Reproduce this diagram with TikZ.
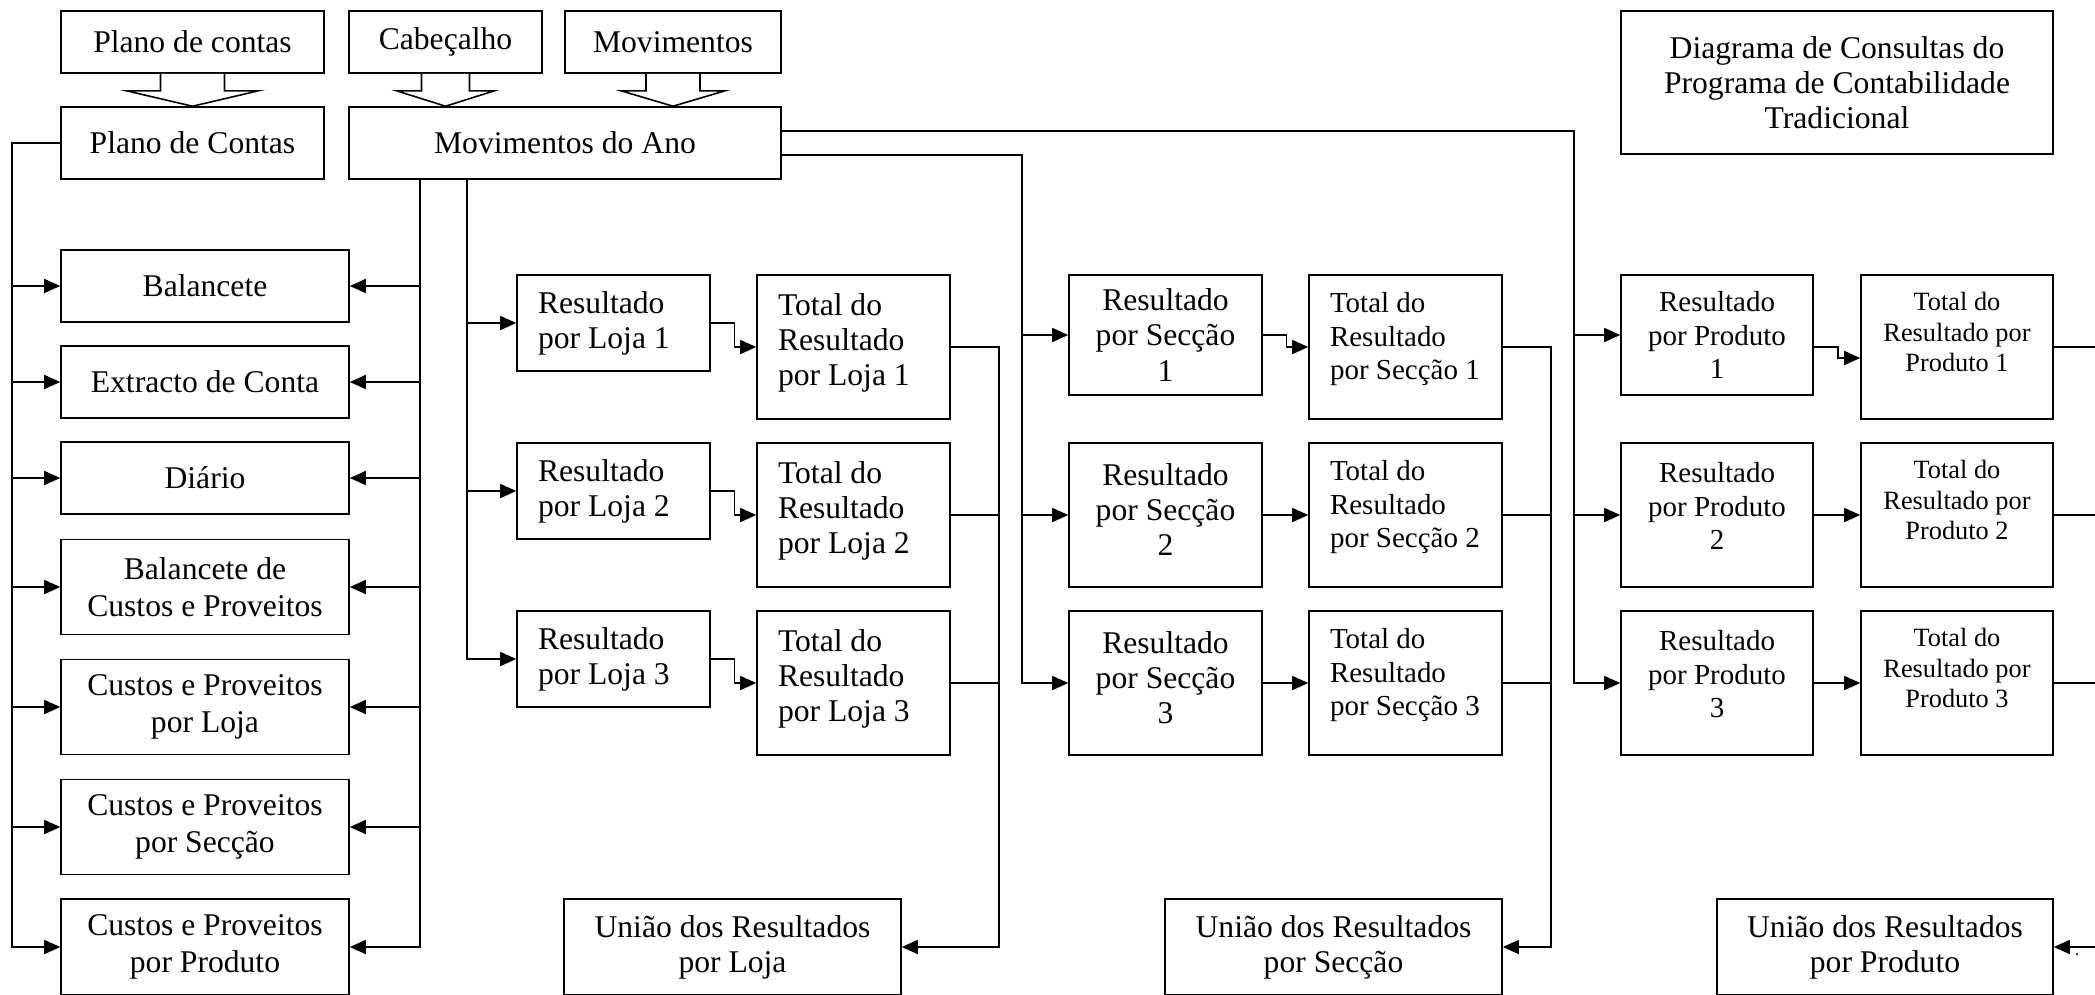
\documentclass[tikz,border=0pt]{standalone}
\usepackage{fontspec}
\setmainfont{Liberation Serif}
\usetikzlibrary{positioning,calc,arrows.meta}
\newlength\pxu
\setlength\pxu{0.02cm}
\tikzset{
	box/.style={draw=black,line width=0.9pt,inner sep=0pt,align=center,
		font=\fontsize{18}{20}\selectfont},
	sz/.style 2 args={minimum width=#1*\pxu,minimum height=#2*\pxu},
	lcol/.style={box,sz={288}{#1},font=\fontsize{18}{21}\selectfont},
	lft/.style={box,align=flush left,text width=3.02cm},
	lift/.style={text depth=#1},
	small/.style={font=\fontsize{16.5}{19}\selectfont},
	smaller/.style={font=\fontsize{15}{17.5}\selectfont},
	wire/.style={draw=black,line width=0.9pt},
	arr/.style={wire,-{Triangle[length=0.32cm,width=0.28cm]}},
}

\begin{document}
\begin{tikzpicture}[x=0.02cm,y=-0.02cm]
	\useasboundingbox (0,0) rectangle (2095,994);
	% ficheiros de entrada
	\node[box,sz={263}{62}] (pcs) at (192.5,42) {Plano de contas};
	\node[box,sz={193}{62}] (cab) at (445.5,42) {Cabeçalho};
	\node[box,sz={216}{62}] (mov) at (673,42) {Movimentos};
	\node[box,sz={263}{72}] (pc) at (192.5,143) {Plano de Contas};
	\node[box,sz={432}{72}] (ma) at (565,143) {Movimentos do Ano};
	\node[box,sz={432}{143}] (tit) at (1837,82.5) {Diagrama de Consultas do\\Programa de Contabilidade\\Tradicional};
	\foreach \s/\t/\a/\b in {pcs/pc/32/66,cab/ma/24/49,mov/ma/27/52}
	\draw[wire,fill=white] ($(\s.south)+(-\a,0)$) -- ++(0,17) -- ++(\a-\b,0)
		-- (\s.south |- \t.north) -- ($(\s.south)+(\b,17)$) -- ++(\a-\b,0) -- ($(\s.south)+(\a,0)$);
	% consultas gerais
	\node[lcol=72] (bal) at (205,286) {Balancete};
	\node[lcol=72] (ext) at (205,382) {Extracto de Conta};
	\node[lcol=72] (dia) at (205,478) {Diário};
	\node[lcol=95] (bcp) at (205,587) {Balancete de\\Custos e Proveitos};
	\node[lcol=95] (cpl) at (205,707) {Custos e Proveitos\\por Loja};
	\node[lcol=95] (cps) at (205,827) {Custos e Proveitos\\por Secção};
	\node[lcol=96] (cpp) at (205,947) {Custos e Proveitos\\por Produto};
	% loja
	\foreach \i/\t in {1/275,2/443,3/611}{
		\node[lft,sz={193}{96}] (rl\i) at (613.5,\t+48) {Resultado\\por Loja~\i};
		\node[lft,lift=48.5pt,sz={193}{144}] (tl\i) at (853.5,\t+72) {Total do\\Resultado\\por Loja~\i};
	}
	\node[box,sz={337}{96}] (ul) at (732.5,947) {União dos Resultados\\por Loja};
	% seccao
	\foreach \i/\y/\h/\ty/\d in {1/335/120/347/0pt,2/515/144/515/6pt,3/683/144/683/6pt}{
		\node[box,lift=\d,sz={193}{\h}] (rs\i) at (1165.5,\y) {Resultado\\por Secção\\\i};
		\node[lft,small,lift=50.5pt,sz={193}{144}] (ts\i) at (1405.5,\ty) {Total do\\Resultado\\por Secção~\i};
	}
	\node[box,sz={337}{96}] (us) at (1333.5,947) {União dos Resultados\\por Secção};
	% produto
	\foreach \i/\y/\h/\ty/\d in {1/335/120/347/0pt,2/515/144/515/10pt,3/683/144/683/10pt}{
		\node[box,small,lift=\d,sz={192}{\h}] (rp\i) at (1717,\y) {Resultado\\por Produto\\\i};
		\node[box,smaller,lift=17pt,sz={192}{144}] (tp\i) at (1957,\ty) {Total do\\Resultado por\\Produto \i};
	}
	\node[box,sz={336}{96}] (up) at (1885,947) {União dos Resultados\\por Produto};
	\node[font=\fontsize{10}{12}\selectfont] (pt) at (2077,955) {.};

	% ligacoes
	\coordinate (lbus) at ($(pc.west)+(-48,0)$);
	\draw[arr] (pc.west) -- (lbus) |- (cpp.west);
	\foreach \n in {bal,ext,dia,bcp,cpl,cps}
	\draw[arr] (lbus |- \n.west) -- (\n.west);
	\coordinate (mbus) at ($(ma.south west)+(72,0)$);
	\draw[arr] (mbus) |- (cpp.east);
	\foreach \n in {bal,ext,dia,bcp,cpl,cps}
	\draw[arr] (mbus |- \n.east) -- (\n.east);

	\coordinate (jbus) at ($(ma.south west)+(119,0)$);
	\draw[arr] (jbus) |- (rl3.west);
	\foreach \i in {1,2}
	\draw[arr] (jbus |- rl\i.west) -- (rl\i.west);
	\foreach \i in {1,2,3}
	\draw[arr] (rl\i.east) -- ++(23.5,0) |- (tl\i.west);
	\draw[arr] (tl1.east) -- ++(48,0) |- (ul.east);
	\foreach \i in {2,3}
	\draw[wire] (tl\i.east) -- ++(48,0);

	\coordinate (sbus) at ($(ma.east)+(240,12)$);
	\draw[arr] ($(ma.east)+(0,12)$) -- (sbus) |- (rs3.west);
	\foreach \i in {1,2}
	\draw[arr] (sbus |- rs\i.west) -- (rs\i.west);
	\foreach \i in {1,2,3}
	\draw[arr] (rs\i.east) -- ++(23.5,0) |- (ts\i.west);
	\draw[arr] (ts1.east) -- ++(48,0) |- (us.east);
	\foreach \i in {2,3}
	\draw[wire] (ts\i.east) -- ++(48,0);

	\coordinate (pbus) at ($(ma.east)+(792,-12)$);
	\draw[arr] ($(ma.east)+(0,-12)$) -- (pbus) |- (rp3.west);
	\foreach \i in {1,2}
	\draw[arr] (pbus |- rp\i.west) -- (rp\i.west);
	\draw[arr] ($(rp1.east)+(0,12)$) -- ++(24,0) |- ($(tp1.west)+(0,11)$);
	\foreach \i in {2,3}
	\draw[arr] (rp\i.east) -- (tp\i.west);
	\draw[arr] (tp1.east) -- ++(48,0) |- (up.east);
	\foreach \i in {2,3}
	\draw[wire] (tp\i.east) -- ++(48,0);
\end{tikzpicture}
\end{document}
